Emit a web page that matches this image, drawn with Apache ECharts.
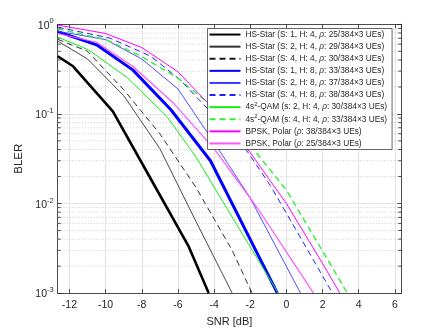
<!DOCTYPE html>
<html>
<head>
<meta charset="utf-8">
<script src="https://cdn.jsdelivr.net/npm/echarts@6/dist/echarts.min.js"></script>
<style>
  html, body { margin: 0; padding: 0; background: #fff; }
  #main { width: 443px; height: 332px; }
</style>
</head>
<body>
<div id="main"></div>
<script>
// SNR range of the plot
var X_MIN = -12.65, X_MAX = 6.35;

// [SNR dB, BLER]
var hsS1H4 = [[-12.65, 0.44], [-11.8, 0.34], [-9.6, 0.107], [-7.6, 0.0204], [-5.4, 0.0033], [-4.3, 0.001]];
var hsS2H4 = [[-12.65, 0.65], [-11.0, 0.41], [-9.0, 0.16], [-7.0, 0.041], [-5.0, 0.0063], [-3.0, 0.001]];
var hsS4H4 = [[-12.65, 0.68], [-11.0, 0.50], [-9.0, 0.186], [-7.0, 0.060], [-5.0, 0.0151], [-3.0, 0.0030], [-1.9, 0.001]];
var hsS1H8 = [[-12.65, 0.83], [-10.5, 0.59], [-8.5, 0.31], [-6.4, 0.112], [-4.2, 0.030], [-0.5, 0.001]];
var hsS2H8 = [[-12.65, 0.835], [-10, 0.676], [-8, 0.41], [-6, 0.19], [-4, 0.048], [-2, 0.0115], [0.78, 0.001]];
var hsS4H8 = [[-12.65, 0.93], [-9.75, 0.70], [-7.5, 0.44], [-5.9, 0.242], [-4, 0.096], [-2.27, 0.041], [-0.88, 0.0158], [2.55, 0.001]];
var qamS2 = [[-12.65, 0.72], [-10.95, 0.52], [-8.8, 0.253], [-6.6, 0.093], [-5.0, 0.033], [-3.4, 0.0096], [-0.45, 0.001]];
var qamS4 = [[-12.65, 0.89], [-10, 0.676], [-8, 0.437], [-6, 0.251], [-4, 0.117], [-2, 0.0447], [0, 0.0141], [2, 0.00295], [3.37, 0.001]];
var bpsk38 = [[-12.65, 0.98], [-10, 0.79], [-8, 0.55], [-6, 0.295], [-4, 0.112], [-2, 0.037], [0, 0.01], [2, 0.00214], [2.96, 0.001]];
var bpsk25 = [[-12.65, 0.79], [-10.5, 0.63], [-8.5, 0.34], [-6.3, 0.135], [-4, 0.041], [-1.6, 0.0089], [1.5, 0.001]];

var names = [
  'HS-Star (S: 1, H: 4, ρ: 25/384×3 UEs)',
  'HS-Star (S: 2, H: 4, ρ: 29/384×3 UEs)',
  'HS-Star (S: 4, H: 4, ρ: 30/384×3 UEs)',
  'HS-Star (S: 1, H: 8, ρ: 33/384×3 UEs)',
  'HS-Star (S: 2, H: 8, ρ: 37/384×3 UEs)',
  'HS-Star (S: 4, H: 8, ρ: 38/384×3 UEs)',
  '4s²-QAM (s: 2, H: 4, ρ: 30/384×3 UEs)',
  '4s²-QAM (s: 4, H: 4, ρ: 33/384×3 UEs)',
  'BPSK, Polar (ρ: 38/384×3 UEs)',
  'BPSK, Polar (ρ: 25/384×3 UEs)'
];

// minor log grid values
var minorVals = [];
[0.001, 0.01, 0.1].forEach(function (d) {
  for (var k = 2; k <= 9; k++) minorVals.push(+(d * k).toPrecision(2));
});

var FONT = 'Liberation Sans, Arial, sans-serif';
var TXT = '#262626';

function line(name, data, color, width, dash) {
  return {
    name: name,
    type: 'line',
    data: data,
    symbol: 'none',
    showSymbol: false,
    clip: true,
    z: 3,
    lineStyle: { color: color, width: width, type: dash ? [6, 4] : 'solid' },
    itemStyle: { color: color }
  };
}

var axisLineStyle = { show: true, onZero: false, lineStyle: { color: TXT, width: 0.8 } };
var tickStyle = { show: true, inside: true, length: 4, lineStyle: { color: TXT, width: 0.8 } };

var chart = echarts.init(document.getElementById('main'), null, { renderer: 'canvas' });

var option = {
  backgroundColor: '#fff',
  animation: false,
  grid: { left: 57.7, right: 41.8, top: 24.3, bottom: 36.7 },
  legend: {
    data: names,
    orient: 'vertical',
    left: 207.5,
    top: 28.5,
    itemWidth: 31,
    itemHeight: 12,
    itemGap: 0,
    padding: [0, 5, 0, 1],
    backgroundColor: '#fff',
    borderColor: TXT,
    borderWidth: 0.7,
    borderRadius: 0,
    itemStyle: { opacity: 0 },
    formatter: function (n) {
      return n.replace('ρ', '{it|ρ}').replace('²', '{sup|2}');
    },
    textStyle: {
      fontFamily: FONT, fontSize: 8.3, color: TXT, lineHeight: 12.1,
      rich: {
        it: { fontFamily: FONT, fontSize: 8.3, fontStyle: 'italic', color: TXT, lineHeight: 12.1 },
        sup: { fontFamily: FONT, fontSize: 6, color: TXT, lineHeight: 12.1, verticalAlign: 'top' }
      }
    }
  },
  xAxis: [{
    type: 'value',
    min: X_MIN, max: X_MAX,
    splitNumber: 10, minInterval: 2, maxInterval: 2,
    name: 'SNR [dB]',
    nameLocation: 'middle',
    nameGap: 21,
    nameTextStyle: { fontFamily: FONT, fontSize: 11, color: TXT },
    axisLine: axisLineStyle,
    axisTick: tickStyle,
    axisLabel: { fontFamily: FONT, fontSize: 10.5, color: TXT, margin: 7, showMinLabel: false, showMaxLabel: false },
    splitLine: { show: true, lineStyle: { color: '#e3e3e3', width: 1 } }
  }, {
    type: 'value',
    position: 'top',
    min: X_MIN, max: X_MAX,
    splitNumber: 10, minInterval: 2, maxInterval: 2,
    axisLine: axisLineStyle,
    axisTick: tickStyle,
    axisLabel: { show: false },
    splitLine: { show: false }
  }],
  yAxis: [{
    type: 'log',
    logBase: 10,
    min: 0.001, max: 1,
    position: 'left',
    name: 'BLER',
    nameLocation: 'middle',
    nameGap: 23,
    nameTextStyle: { fontFamily: FONT, fontSize: 11.5, color: TXT },
    axisLine: axisLineStyle,
    axisTick: tickStyle,
    axisLabel: {
      margin: 4,
      formatter: function (v) {
        return '{b|10}{s|' + Math.round(Math.log10(v)) + '}';
      },
      rich: {
        b: { fontFamily: FONT, fontSize: 10.5, color: TXT, lineHeight: 14, verticalAlign: 'bottom' },
        s: { fontFamily: FONT, fontSize: 7.5, color: TXT, lineHeight: 14, verticalAlign: 'top' }
      }
    },
    splitLine: { show: true, lineStyle: { color: '#e3e3e3', width: 1 } }
  }, {
    type: 'log',
    logBase: 10,
    min: 0.001, max: 1,
    position: 'right',
    axisLine: axisLineStyle,
    axisTick: tickStyle,
    axisLabel: { show: false },
    splitLine: { show: false }
  }],
  series: [
    {
      name: 'minor',
      type: 'custom',
      silent: true,
      z: 1,
      data: minorVals.map(function (v) { return [X_MIN, v]; }),
      encode: { x: 0, y: 1 },
      renderItem: function (params, api) {
        var v = api.value(1);
        var a = api.coord([X_MIN, v]);
        var b = api.coord([X_MAX, v]);
        return {
          type: 'group',
          children: [
            { type: 'line', shape: { x1: a[0], y1: a[1], x2: b[0], y2: b[1] },
              style: { stroke: '#c9c9c9', lineWidth: 1, lineDash: [1, 2] } },
            { type: 'line', shape: { x1: a[0], y1: a[1], x2: a[0] + 3, y2: a[1] },
              style: { stroke: TXT, lineWidth: 0.8 } },
            { type: 'line', shape: { x1: b[0] - 3, y1: b[1], x2: b[0], y2: b[1] },
              style: { stroke: TXT, lineWidth: 0.8 } }
          ]
        };
      }
    },
    line(names[0], hsS1H4, '#000000', 2.6, false),
    line(names[1], hsS2H4, '#333333', 0.9, false),
    line(names[2], hsS4H4, '#1a1a1a', 0.9, true),
    line(names[3], hsS1H8, '#0000ff', 3, false),
    line(names[4], hsS2H8, '#3a3aff', 0.9, false),
    line(names[5], hsS4H8, '#2020ff', 1, true),
    line(names[6], qamS2, '#11ee11', 1, false),
    line(names[7], qamS4, '#33ee33', 1.4, true),
    line(names[8], bpsk38, '#ff00ff', 1, false),
    line(names[9], bpsk25, '#ff55ff', 1.2, false)
  ]
};

chart.setOption(option);
</script>
</body>
</html>
